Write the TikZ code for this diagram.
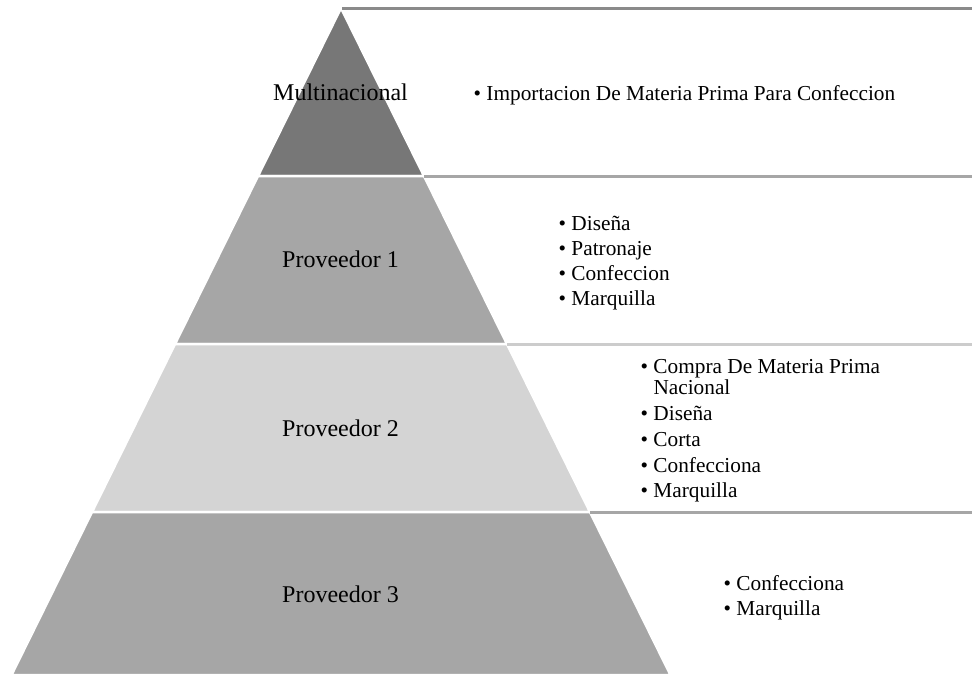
\documentclass[tikz,border=0pt]{standalone}
\usepackage{fontspec}
\setmainfont{Liberation Serif}
\definecolor{tierA}{HTML}{777777}
\definecolor{tierB}{HTML}{A6A6A6}
\definecolor{tierC}{HTML}{D4D4D4}
\definecolor{lineA}{HTML}{8A8A8A}
\definecolor{lineB}{HTML}{A6A6A6}
\definecolor{lineC}{HTML}{CCCCCC}
\tikzset{
  tier/.style={draw=white, line width=2.5pt, line join=miter},
  boxline/.style={line width=2.6pt},
  lab/.style={inner sep=0pt, anchor=base, font=\fontsize{24}{29}\selectfont},
  item/.style={inner sep=0pt, anchor=base west, font=\fontsize{21.3}{25}\selectfont},
}
\begin{document}
\begin{tikzpicture}[x=1pt,y=-1pt]
\useasboundingbox (0,0) rectangle (972,675);
% pyramid tiers
\fill[tierA] (341,8) -- (424,176) -- (258,176) -- cycle;
\draw[tier] (341,8) -- (424,176) -- (258,176) -- cycle;
\fill[tierB] (258,176) -- (424,176) -- (507,344) -- (175,344) -- cycle;
\draw[tier] (258,176) -- (424,176) -- (507,344) -- (175,344) -- cycle;
\fill[tierC] (175,344) -- (507,344) -- (590,512) -- (92,512) -- cycle;
\draw[tier] (175,344) -- (507,344) -- (590,512) -- (92,512) -- cycle;
\fill[tierB] (92,512) -- (590,512) -- (670.5,675) -- (11.5,675) -- cycle;
\draw[tier] (92,512) -- (590,512) -- (670.5,675) -- (11.5,675) -- cycle;
% box top lines
\coordinate (b1s) at (342,8.7);   \coordinate (b1e) at (972,8.7);
\coordinate (b2s) at (424,176.3); \coordinate (b2e) at (972,176.3);
\coordinate (b3s) at (507,344.3); \coordinate (b3e) at (972,344.3);
\coordinate (b4s) at (590,512.3); \coordinate (b4e) at (972,512.3);
\draw[boxline, lineA] (b1s) -- (b1e);
\draw[boxline, lineB] (b2s) -- (b2e);
\draw[boxline, lineC] (b3s) -- (b3e);
\draw[boxline, lineB] (b4s) -- (b4e);
% tier labels
\node[lab] (t1) at (340.5,100) {Multinacional};
\node[lab] (t2) at (340.5,267.3) {Proveedor 1};
\node[lab] (t3) at (340.5,436.7) {Proveedor 2};
\node[lab] (t4) at (340.5,602.3) {Proveedor 3};
% lists
\node[item] (i1a) at (473.5,100) {• Importacion De Materia Prima Para Confeccion};
\node[item] (i2a) at (558.5,230) {• Diseña};
\node[item] (i2b) at (558.5,255) {• Patronaje};
\node[item] (i2c) at (558.5,280) {• Confeccion};
\node[item] (i2d) at (558.5,305) {• Marquilla};
\node[item] (i3a) at (640.5,373) {• Compra De Materia Prima};
\node[item] (i3b) at (653.3,394.5) {Nacional};
\node[item] (i3c) at (640.5,420) {• Diseña};
\node[item] (i3d) at (640.5,446) {• Corta};
\node[item] (i3e) at (640.5,472) {• Confecciona};
\node[item] (i3f) at (640.5,497) {• Marquilla};
\node[item] (i4a) at (723.5,590) {• Confecciona};
\node[item] (i4b) at (723.5,615) {• Marquilla};
\end{tikzpicture}
\end{document}
